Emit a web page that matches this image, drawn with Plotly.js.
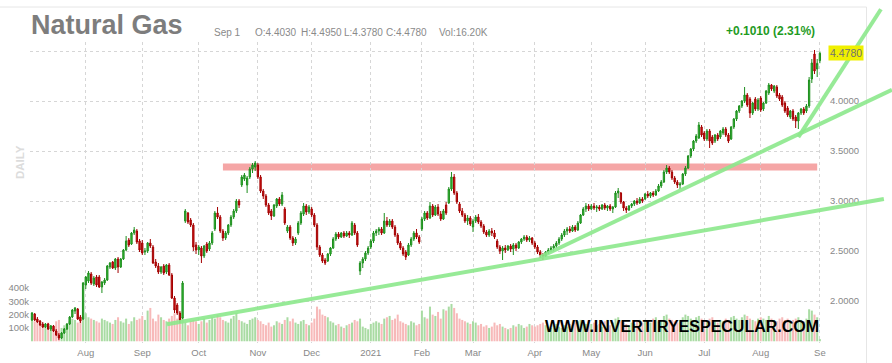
<!DOCTYPE html>
<html><head><meta charset="utf-8">
<script src="https://cdn.plot.ly/plotly-3.0.1.min.js"></script>
<style>html,body{margin:0;padding:0;background:#fff;}#chart{width:892px;height:363px;}</style>
</head><body><div id="chart"></div>
<script>
// ---------- calendar (trading days) ----------
const firstDay = '2020-07-06', lastDay = '2021-09-01';
const holidays = ['2020-09-07','2020-11-26','2020-12-25','2021-01-01','2021-01-18','2021-02-15','2021-04-02','2021-05-31','2021-07-05'];
const monthLabels = ['Aug','Sep','Oct','Nov','Dec','2021','Feb','Mar','Apr','May','Jun','Jul','Aug','Se'];

// ---------- daily OHLC ----------
const open = [
1.81,1.87,1.82,1.80,1.77,1.74,1.77,1.72,1.75,1.70,1.66,1.63,1.68,1.72,1.77,1.84,1.90,1.92,1.84,1.82,
2.16,2.20,2.27,2.17,2.24,2.24,2.14,2.18,2.21,2.34,2.39,2.33,2.42,2.34,2.42,2.51,2.61,2.57,2.68,2.70,2.60,
2.58,2.49,2.50,2.58,2.54,2.39,2.35,2.29,2.35,2.29,2.36,2.26,2.03,1.96,1.88,1.83,2.80,2.88,2.81,2.76,2.56,
2.51,2.53,2.45,2.57,2.52,2.58,2.72,2.88,2.84,2.70,2.63,2.68,2.76,2.84,2.90,3.00,3.16,3.22,3.16,3.24,3.32,3.34,
3.36,3.24,3.10,3.05,2.96,2.90,2.85,2.95,3.02,2.97,2.92,2.70,2.74,2.63,2.58,2.68,2.78,2.87,2.95,2.89,
2.92,2.86,2.76,2.54,2.46,2.41,2.40,2.47,2.53,2.62,2.67,2.64,2.68,2.65,2.68,2.66,2.76,2.68,2.30,2.38,2.42,2.48,
2.54,2.60,2.68,2.70,2.72,2.68,2.80,2.76,2.80,2.74,2.66,2.58,2.53,2.49,2.46,2.56,2.62,2.68,2.64,
2.72,2.82,2.88,2.83,2.95,2.86,2.94,2.87,2.82,2.96,2.98,3.12,3.24,3.08,2.97,2.90,2.86,2.80,2.83,
2.74,2.80,2.84,2.79,2.75,2.69,2.66,2.70,2.68,2.60,2.54,2.50,2.53,2.51,2.55,2.52,2.56,2.53,2.59,2.62,2.64,2.61,2.63,
2.58,2.54,2.49,2.46,2.45,2.49,2.51,2.53,2.55,2.58,2.62,2.66,2.70,2.72,2.70,2.74,2.71,2.78,2.86,2.92,2.95,
2.92,2.95,2.93,2.94,2.92,2.96,2.93,2.95,2.92,2.94,3.08,3.08,2.99,2.93,2.91,2.95,2.97,3.00,2.98,3.02,
3.02,3.07,3.05,3.08,3.06,3.10,3.15,3.19,3.29,3.33,3.29,3.23,3.19,3.16,3.17,3.27,3.33,3.45,3.52,3.60,3.63,3.74,
3.68,3.62,3.70,3.64,3.60,3.66,3.64,3.68,3.72,3.66,3.62,3.74,3.82,3.90,3.95,4.00,4.06,4.02,3.88,4.02,3.92,
4.03,3.92,3.98,4.08,4.16,4.10,4.14,4.06,4.04,3.98,3.93,3.84,3.90,3.84,3.80,3.88,3.92,3.90,3.95,4.22,4.47,4.32,4.403];
const high = [
1.89,1.88,1.84,1.81,1.79,1.78,1.78,1.76,1.76,1.72,1.68,1.69,1.73,1.78,1.85,1.92,1.94,1.93,1.86,2.19,
2.25,2.30,2.29,2.25,2.26,2.26,2.20,2.23,2.36,2.39,2.40,2.43,2.44,2.43,2.52,2.65,2.63,2.69,2.74,2.72,2.62,
2.61,2.53,2.59,2.62,2.56,2.42,2.38,2.35,2.37,2.37,2.38,2.28,2.05,1.98,1.90,2.20,2.92,2.89,2.83,2.78,2.59,
2.56,2.55,2.56,2.59,2.60,2.70,2.90,2.94,2.86,2.72,2.70,2.77,2.86,2.92,3.02,3.02,3.26,3.28,3.25,3.34,3.38,3.40,
3.38,3.26,3.12,3.07,2.98,2.92,2.97,3.03,3.04,3.09,2.94,2.76,2.76,2.65,2.64,2.80,2.90,2.98,2.97,2.96,
2.94,2.88,2.78,2.56,2.48,2.43,2.48,2.54,2.64,2.69,2.69,2.69,2.70,2.70,2.70,2.80,2.78,2.70,2.40,2.44,2.50,2.55,
2.62,2.70,2.72,2.74,2.74,2.88,2.84,2.82,2.82,2.76,2.68,2.60,2.55,2.51,2.58,2.64,2.70,2.72,2.66,
2.84,2.90,2.90,2.99,2.97,2.96,2.97,2.90,2.92,2.99,3.14,3.29,3.27,3.10,2.99,2.93,2.88,2.86,2.85,
2.82,2.86,2.87,2.81,2.77,2.71,2.72,2.73,2.71,2.62,2.56,2.55,2.56,2.56,2.57,2.58,2.58,2.60,2.63,2.66,2.66,2.65,2.64,
2.60,2.56,2.51,2.48,2.50,2.53,2.55,2.57,2.60,2.64,2.68,2.72,2.74,2.75,2.76,2.76,2.80,2.87,2.94,2.98,2.97,
2.97,2.98,2.96,2.96,2.97,2.98,2.96,2.97,2.95,3.10,3.13,3.09,3.00,2.95,2.96,2.98,3.01,3.03,3.04,3.04,
3.08,3.10,3.09,3.10,3.12,3.17,3.21,3.31,3.36,3.35,3.31,3.25,3.21,3.19,3.28,3.35,3.46,3.53,3.61,3.67,3.79,3.76,
3.70,3.72,3.72,3.66,3.67,3.68,3.71,3.74,3.74,3.68,3.75,3.83,3.91,3.96,4.01,4.14,4.08,4.04,3.99,4.04,4.03,
4.05,3.99,4.11,4.18,4.17,4.16,4.16,4.08,4.06,4.00,3.95,3.91,3.92,3.86,3.89,3.93,3.94,3.97,4.24,4.42,4.51,4.42,4.495];
const low = [
1.80,1.80,1.78,1.75,1.73,1.73,1.71,1.70,1.69,1.65,1.61,1.62,1.67,1.71,1.76,1.83,1.87,1.81,1.78,1.81,
2.12,2.18,2.16,2.15,2.14,2.13,2.08,2.16,2.20,2.32,2.32,2.31,2.28,2.33,2.41,2.50,2.54,2.56,2.66,2.57,2.49,
2.46,2.46,2.48,2.53,2.37,2.33,2.27,2.27,2.26,2.27,2.25,2.02,1.88,1.86,1.78,1.82,2.78,2.77,2.74,2.50,2.47,
2.46,2.38,2.43,2.48,2.50,2.56,2.70,2.82,2.68,2.60,2.61,2.66,2.74,2.82,2.88,2.93,3.14,3.20,3.08,3.22,3.28,3.30,
3.22,3.08,3.02,2.94,2.86,2.81,2.84,2.93,2.95,2.95,2.76,2.68,2.61,2.55,2.56,2.66,2.76,2.85,2.86,2.87,
2.84,2.74,2.51,2.44,2.38,2.36,2.39,2.45,2.52,2.60,2.62,2.63,2.63,2.64,2.63,2.65,2.66,2.54,2.26,2.33,2.40,2.46,
2.52,2.58,2.65,2.66,2.66,2.67,2.74,2.74,2.72,2.64,2.56,2.51,2.45,2.41,2.45,2.54,2.60,2.62,2.57,
2.70,2.80,2.81,2.82,2.84,2.85,2.85,2.80,2.81,2.86,2.97,3.10,3.06,2.97,2.88,2.84,2.78,2.76,2.75,
2.69,2.78,2.77,2.73,2.67,2.64,2.64,2.65,2.62,2.52,2.47,2.41,2.48,2.50,2.49,2.46,2.50,2.52,2.57,2.60,2.59,2.59,2.56,
2.52,2.47,2.43,2.41,2.44,2.47,2.49,2.50,2.53,2.56,2.60,2.64,2.66,2.68,2.69,2.69,2.70,2.77,2.85,2.89,2.90,
2.91,2.91,2.89,2.90,2.91,2.91,2.90,2.90,2.88,2.93,3.03,2.97,2.90,2.88,2.90,2.93,2.95,2.96,2.97,2.98,
3.01,3.03,3.03,3.04,3.05,3.09,3.13,3.18,3.27,3.27,3.21,3.17,3.13,3.12,3.16,3.25,3.32,3.43,3.50,3.58,3.62,3.64,
3.60,3.60,3.53,3.56,3.58,3.60,3.62,3.66,3.64,3.58,3.61,3.72,3.80,3.88,3.93,3.98,3.94,3.83,3.86,3.90,3.90,
3.89,3.90,3.97,4.06,4.10,4.08,4.03,4.00,3.94,3.88,3.84,3.82,3.80,3.73,3.72,3.86,3.86,3.88,3.93,4.18,4.27,4.24,4.378];
const close = [
1.88,1.81,1.79,1.76,1.74,1.77,1.72,1.75,1.70,1.66,1.63,1.68,1.72,1.77,1.84,1.91,1.93,1.82,1.80,2.18,
2.24,2.28,2.18,2.23,2.16,2.14,2.19,2.21,2.35,2.38,2.33,2.42,2.34,2.42,2.51,2.60,2.56,2.68,2.71,2.59,2.51,
2.48,2.50,2.58,2.55,2.38,2.35,2.29,2.34,2.28,2.36,2.26,2.03,1.91,1.88,1.81,2.18,2.90,2.79,2.76,2.54,2.51,
2.54,2.45,2.55,2.50,2.58,2.68,2.88,2.84,2.70,2.63,2.68,2.76,2.84,2.90,3.00,2.96,3.24,3.26,3.23,3.32,3.36,3.38,
3.24,3.10,3.05,2.96,2.88,2.85,2.96,3.02,2.97,3.06,2.78,2.74,2.63,2.58,2.62,2.78,2.88,2.95,2.89,2.94,
2.86,2.76,2.54,2.46,2.40,2.38,2.47,2.53,2.62,2.67,2.64,2.68,2.65,2.68,2.66,2.78,2.68,2.56,2.38,2.42,2.48,2.53,
2.60,2.68,2.70,2.72,2.68,2.80,2.76,2.80,2.74,2.66,2.58,2.53,2.47,2.44,2.56,2.62,2.68,2.64,2.59,
2.82,2.88,2.83,2.95,2.86,2.94,2.87,2.82,2.90,2.88,3.12,3.24,3.08,2.99,2.90,2.86,2.80,2.83,2.77,
2.80,2.84,2.79,2.75,2.69,2.66,2.70,2.68,2.64,2.54,2.50,2.53,2.51,2.55,2.52,2.56,2.53,2.59,2.62,2.64,2.61,2.63,2.58,
2.54,2.49,2.46,2.45,2.49,2.51,2.53,2.55,2.58,2.62,2.66,2.70,2.72,2.70,2.74,2.71,2.78,2.86,2.92,2.95,2.92,
2.95,2.93,2.94,2.92,2.96,2.93,2.95,2.92,2.94,3.08,3.10,2.99,2.93,2.91,2.95,2.97,3.00,2.98,3.02,3.00,
3.07,3.05,3.08,3.06,3.10,3.15,3.19,3.29,3.33,3.29,3.23,3.19,3.16,3.17,3.27,3.33,3.45,3.52,3.60,3.65,3.76,3.66,
3.62,3.70,3.60,3.58,3.66,3.62,3.70,3.72,3.66,3.60,3.74,3.82,3.90,3.95,4.00,4.06,3.96,3.88,3.98,3.92,4.01,
3.91,3.98,4.10,4.16,4.12,4.15,4.05,4.02,3.96,3.90,3.86,3.90,3.82,3.80,3.88,3.92,3.88,3.95,4.21,4.38,4.30,4.377,4.478];
// daily volume, thousands of contracts
const volume = [
190,150,140,120,130,110,140,120,110,150,160,100,120,130,150,170,160,140,150,190,
210,180,170,160,150,140,170,160,150,140,130,160,180,150,140,170,130,150,180,160,170,
190,160,230,250,170,150,200,180,160,150,170,190,210,170,160,180,140,120,150,160,150,
130,150,170,140,160,180,170,200,180,160,150,140,170,190,210,160,150,140,130,160,170,180,
160,150,130,120,140,110,120,150,140,130,160,180,150,170,140,130,150,160,130,120,
140,170,260,240,200,190,180,150,140,120,130,110,100,120,130,140,160,150,170,110,100,90,
130,140,150,140,130,170,180,190,160,170,200,150,140,130,120,150,140,120,130,
230,180,170,260,200,190,220,170,240,230,260,280,250,210,170,160,150,140,130,
150,140,120,130,110,120,100,110,140,120,130,110,100,90,100,120,110,130,120,100,110,130,120,
110,120,130,140,120,110,100,120,130,110,100,120,110,130,120,140,150,160,140,130,120,
130,140,120,130,110,150,160,120,140,170,180,150,140,130,120,140,130,150,160,140,
160,150,140,170,180,150,160,190,200,170,160,150,140,160,180,200,190,170,160,180,190,170,
160,150,170,180,150,140,160,150,170,160,180,190,170,160,180,200,190,170,160,150,170,
180,170,160,190,170,160,150,170,180,160,170,150,160,170,180,160,150,170,240,230,200,180,16.2];
const lastVolumeText = '16.20K';

// annotation levels / trend lines (date, price anchors)
const resistance = {from:'2020-10-14', to:'2021-08-31', lo:3.305, hi:3.375};
const trendLines = [
  {a:['2020-09-22',1.79], b:['2021-04-01',2.41], startIdx:50.2, endIdx:316.8},
  {a:['2021-04-06',2.44], b:['2021-08-23',3.68], startIdx:189, endIdx:319.8},
  {a:['2021-08-23',3.68], b:['2021-08-31',3.93], startIdx:285, endIdx:315.7}
];

// ---------- build ----------
const dates = [];
(function(){
  const d = new Date(firstDay+'T00:00:00Z'), e = new Date(lastDay+'T00:00:00Z');
  while (d <= e) {
    const w = d.getUTCDay(), s = d.toISOString().slice(0,10);
    if (w !== 0 && w !== 6 && holidays.indexOf(s) < 0) dates.push(s);
    d.setUTCDate(d.getUTCDate()+1);
  }
})();
const n = Math.min(dates.length, open.length, high.length, low.length, close.length, volume.length);
const X = dates.slice(0,n);
const monthStarts = [];
let prevM = X[0].slice(0,7);
for (let i=1;i<n;i++){ const m=X[i].slice(0,7); if(m!==prevM){monthStarts.push(X[i]); prevM=m;} }

const XR = [-0.744, 293.79], YR = [1.58, 4.59];
const L0=30, R0=822, T0=42, B0=343;
const px = x => (x-L0)/(R0-L0), py = y => (B0-y)/(B0-T0);
const ix = i => (i-XR[0])/(XR[1]-XR[0]), iy = p => (p-YR[0])/(YR[1]-YR[0]);
const FONT = 'Liberation Sans, Arial, sans-serif';

const volColors = X.map((_,i)=> close[i] >= open[i] ? '#a9dba3' : '#f7b9b9');

const traces = [
  {type:'bar', x:X, y:volume.slice(0,n), marker:{color:volColors, line:{width:0}}, xaxis:'x', yaxis:'y', hoverinfo:'skip', showlegend:false},
  {type:'candlestick', x:X, open:open.slice(0,n), high:high.slice(0,n), low:low.slice(0,n), close:close.slice(0,n),
   xaxis:'x', yaxis:'y2', whiskerwidth:0,
   increasing:{line:{color:'#1e8e1e', width:1}, fillcolor:'#36c236'},
   decreasing:{line:{color:'#a30000', width:1}, fillcolor:'#d81414'},
   hoverinfo:'skip', showlegend:false}
];

const shapes = [];
// frame
shapes.push({type:'line', xref:'paper', yref:'paper', x0:px(0), x1:px(866.5), y0:py(7), y1:py(7), line:{color:'#e6e6e6', width:1}});
shapes.push({type:'line', xref:'paper', yref:'paper', x0:px(866.5), x1:px(866.5), y0:py(7), y1:py(363), line:{color:'#e6e6e6', width:1}});
// resistance band
shapes.push({type:'rect', xref:'x', yref:'y2', x0:X.indexOf(resistance.from), x1:X.indexOf(resistance.to),
  y0:resistance.lo, y1:resistance.hi, fillcolor:'#f5a6a6', line:{width:0}, layer:'below'});
// trend lines
trendLines.forEach(t=>{
  const ia = X.indexOf(t.a[0]), ib = X.indexOf(t.b[0]);
  const slope = (t.b[1]-t.a[1])/(ib-ia);
  const p0 = t.a[1] + slope*(t.startIdx-ia), p1 = t.a[1] + slope*(t.endIdx-ia);
  shapes.push({type:'line', xref:'paper', yref:'paper', x0:ix(t.startIdx), y0:iy(p0), x1:ix(t.endIdx), y1:iy(p1),
    line:{color:'rgba(140,232,140,0.9)', width:4}, layer:'above'});
});

const li = n-1;
const chg = close[li]-close[li-1];
const pct = chg/close[li-1]*100;
const lastDate = new Date(X[li]+'T00:00:00Z');
const mNames = ['Jan','Feb','Mar','Apr','May','Jun','Jul','Aug','Sep','Oct','Nov','Dec'];
const hdrGrey = '#8a8a8a';
const ann = [
  {text:'<b>Natural Gas</b>', x:px(29), y:py(25), xanchor:'left', yanchor:'middle', font:{size:27, color:'#7d7d7d', family:FONT}},
  {text: mNames[lastDate.getUTCMonth()]+' '+lastDate.getUTCDate(), x:px(212), y:py(33)},
  {text:'O:'+open[li].toFixed(4), x:px(253), y:py(33)},
  {text:'H:'+high[li].toFixed(4), x:px(299), y:py(33)},
  {text:'L:'+low[li].toFixed(4), x:px(342), y:py(33)},
  {text:'C:'+close[li].toFixed(4), x:px(384), y:py(33)},
  {text:'Vol:'+lastVolumeText, x:px(437), y:py(33)},
  {text:'<b>'+(chg>=0?'+':'')+chg.toFixed(4)+' ('+pct.toFixed(2)+'%)</b>', x:px(724), y:py(31.5), font:{size:12, color:'#1f9b1f', family:FONT}},
  {text:close[li].toFixed(4), x:px(828), xref:'paper', y:close[li], yref:'y2', bgcolor:'#f0f000', borderpad:1, font:{size:10.5, color:'#707070', family:FONT}},
  {text:'<b>DAILY</b>', x:px(20), y:py(162), xanchor:'center', textangle:-90, font:{size:11.5, color:'#dcdcdc', family:FONT}},
  {text:'<b>WWW.INVERTIRYESPECULAR.COM</b>', x:px(681.5), y:py(326), xanchor:'center', font:{size:16, color:'#000', family:FONT}}
].map(a=>Object.assign({xref:'paper', yref:'paper', xanchor:'left', yanchor:'middle', showarrow:false,
  font:{size:10, color:hdrGrey, family:FONT}}, a));

const layout = {
  width:892, height:363,
  margin:{l:L0, r:892-R0, t:T0, b:363-B0, pad:0},
  paper_bgcolor:'#fff', plot_bgcolor:'#fff',
  font:{family:FONT, color:'#888', size:10},
  showlegend:false, bargap:0.25,
  xaxis:{type:'category', range:XR, tickmode:'array', tickvals:monthStarts, ticktext:monthLabels,
    showgrid:true, gridcolor:'#d6d6d6', griddash:'dot', gridwidth:1, zeroline:false, showline:false, ticks:'',
    tickfont:{size:9.5, color:'#888'}, ticklabelstandoff:2, rangeslider:{visible:false}, fixedrange:true},
  yaxis:{range:[-13,2245], side:'left', tickmode:'array', tickvals:[100,200,300,400], ticktext:['100k','200k','300k','400k'],
    showgrid:false, zeroline:false, showline:false, ticks:'', tickfont:{size:9.5, color:'#888'}, fixedrange:true},
  yaxis2:{overlaying:'y', side:'right', range:YR, tickmode:'array', tickvals:[2,2.5,3,3.5,4,4.5],
    ticktext:['2.0000','2.5000','3.0000','3.5000','4.0000',''],
    showgrid:true, gridcolor:'#d6d6d6', griddash:'dot', gridwidth:1, zeroline:false, showline:false, ticks:'',
    tickfont:{size:9.5, color:'#888'}, ticklabelstandoff:7, fixedrange:true},
  shapes:shapes, annotations:ann
};
Plotly.newPlot('chart', traces, layout, {staticPlot:true, displayModeBar:false});
</script>
</body></html>
